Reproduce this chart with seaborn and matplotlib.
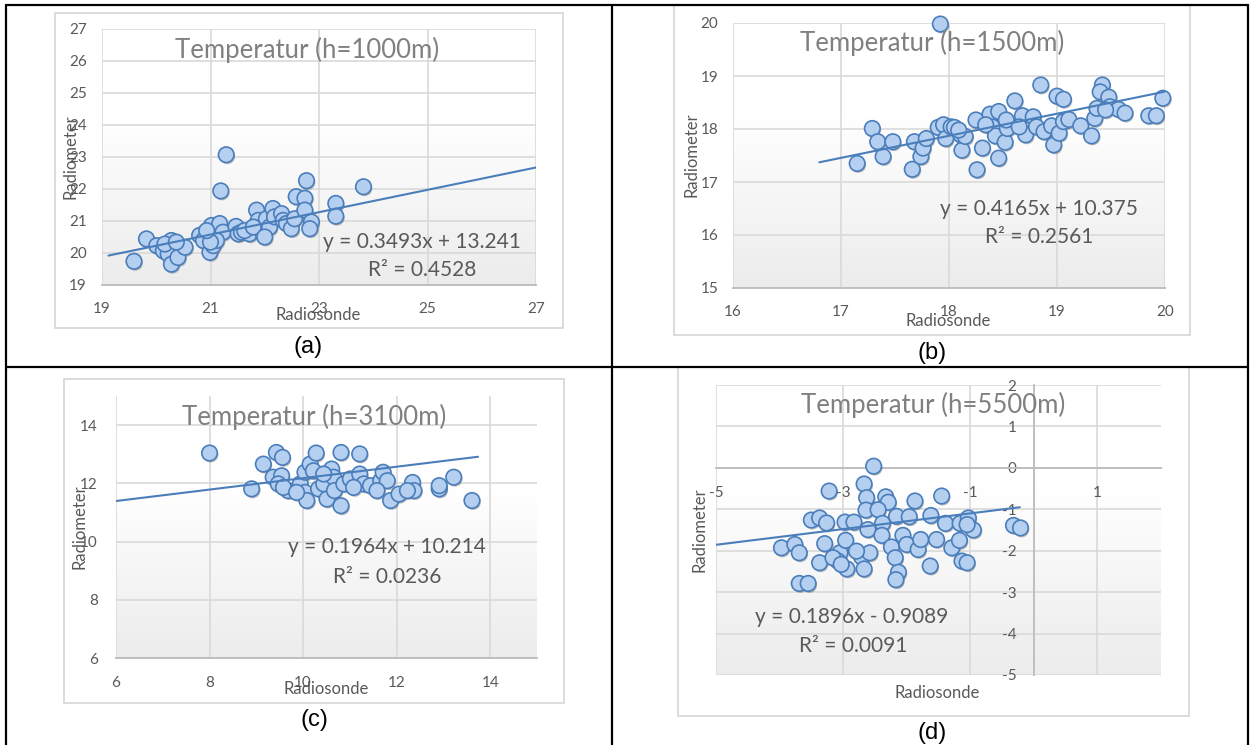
import numpy as np
import matplotlib
matplotlib.use("Agg")
import matplotlib.pyplot as plt
import matplotlib.patheffects as pe
from matplotlib.lines import Line2D
from matplotlib.patches import Rectangle
from matplotlib.colors import LinearSegmentedColormap
import seaborn as sns

sns.set_theme(style="white")
plt.rcParams['font.family'] = ['Lato', 'DejaVu Sans']
plt.rcParams['axes.unicode_minus'] = False

# --- data ---
a_radiosonde = [19.59, 19.82, 20.01, 20.13, 20.28, 20.34, 20.22, 20.28, 20.40, 20.53, 20.16,
                20.80, 20.87, 20.99, 21.05, 21.02, 21.17, 21.23, 21.11, 21.19, 21.29, 21.47,
                21.51, 21.57, 21.72, 21.63, 21.85, 21.88, 21.94, 21.97, 22.03, 22.09, 22.15,
                22.18, 22.31, 22.34, 22.40, 22.49, 22.55, 22.58, 22.74, 22.77, 22.74, 22.86,
                22.83, 23.31, 23.31, 23.82, 21.79, 22.00, 21.00, 20.93, 20.37]
a_radiometer = [19.74, 20.44, 20.23, 20.07, 20.39, 20.23, 19.97, 19.65, 19.86, 20.18, 20.28,
                20.55, 20.39, 20.02, 20.23, 20.86, 20.92, 20.65, 20.39, 21.94, 23.07, 20.83,
                20.60, 20.65, 20.60, 20.70, 21.34, 21.02, 20.81, 20.60, 21.07, 20.81, 21.39,
                21.13, 21.23, 21.02, 20.92, 20.76, 21.07, 21.76, 21.71, 22.26, 21.34, 20.97,
                20.76, 21.55, 21.15, 22.07, 20.81, 20.50, 20.34, 20.70, 20.34]

b_radiosonde = [17.92, 17.15, 17.29, 17.34, 17.39, 17.48, 17.66, 17.68, 17.74, 17.76, 17.79,
                17.90, 17.95, 17.97, 18.02, 18.05, 18.11, 18.12, 18.15, 18.25, 18.26, 18.31,
                18.38, 18.40, 18.46, 18.46, 18.43, 18.52, 18.54, 18.61, 18.68, 18.71, 18.78,
                18.81, 18.85, 18.88, 18.95, 18.97, 19.00, 19.06, 19.02, 19.06, 19.11, 19.22,
                19.32, 19.35, 19.37, 19.42, 19.40, 19.48, 19.49, 19.57, 19.63, 19.85, 19.92,
                19.98, 18.34, 18.53, 18.65, 18.09, 19.45]
b_radiometer = [19.98, 17.35, 18.01, 17.76, 17.48, 17.76, 17.24, 17.76, 17.48, 17.64, 17.82,
                18.03, 18.08, 17.82, 18.04, 18.03, 17.89, 17.60, 17.86, 18.17, 17.23, 17.64,
                18.28, 18.04, 18.33, 17.45, 17.87, 17.75, 18.01, 18.53, 18.25, 17.89, 18.23,
                18.04, 18.83, 17.95, 18.06, 17.70, 18.62, 18.56, 17.92, 18.14, 18.18, 18.06,
                17.87, 18.20, 18.39, 18.83, 18.70, 18.60, 18.42, 18.37, 18.30, 18.25, 18.25,
                18.58, 18.08, 18.17, 18.04, 17.98, 18.36]

c_radiosonde = [8.00, 8.90, 9.15, 9.43, 9.56, 9.36, 9.54, 9.47, 9.68, 9.58, 9.94, 10.04, 10.15,
                10.28, 10.22, 10.04, 10.08, 10.33, 10.44, 10.51, 10.61, 10.65, 10.67, 10.81,
                10.81, 10.87, 11.01, 11.21, 11.21, 11.30, 11.44, 11.66, 11.71, 11.80, 11.87,
                12.05, 12.34, 12.37, 12.91, 13.22, 13.61, 11.58, 11.08, 9.86, 10.44, 12.23, 12.91]
c_radiometer = [13.04, 11.81, 12.66, 13.06, 12.89, 12.21, 12.26, 11.98, 11.75, 11.86, 11.98,
                12.38, 12.66, 13.04, 12.43, 11.69, 11.41, 11.81, 11.98, 11.46, 12.49, 12.21,
                11.75, 13.06, 11.23, 11.98, 12.15, 13.01, 12.32, 11.98, 11.92, 12.09, 12.38,
                12.09, 11.41, 11.63, 12.03, 11.75, 11.81, 12.21, 11.41, 11.75, 11.86, 11.69,
                12.32, 11.75, 11.92]

d_radiosonde = [-2.52, -2.67, -3.22, -2.63, -2.33, -2.29, -1.87, -1.45, -2.64, -2.45, -3.50,
                -3.37, -3.26, -2.97, -2.83, -2.38, -2.16, -1.96, -1.62, -1.39, -1.16, -1.03,
                -0.95, -1.05, -0.32, -0.21, -3.97, -3.76, -3.69, -3.37, -3.29, -3.05, -2.96,
                -2.94, -2.71, -2.67, -2.58, -2.61, -2.39, -2.24, -2.18, -2.13, -2.17, -2.06,
                -2.00, -1.82, -1.78, -1.63, -1.53, -1.29, -1.17, -1.13, -1.05, -3.69, -3.55,
                -3.08, -3.16, -2.79, -3.03]
d_radiometer = [0.04, -0.39, -0.56, -0.72, -0.70, -0.83, -0.80, -0.68, -1.02, -1.01, -1.26,
                -1.21, -1.33, -1.31, -1.31, -1.34, -1.17, -1.18, -1.15, -1.34, -1.34, -1.21,
                -1.50, -1.37, -1.39, -1.45, -1.93, -1.85, -2.05, -2.29, -1.83, -2.05, -1.75,
                -2.44, -2.15, -2.44, -2.05, -1.49, -1.63, -1.91, -2.17, -2.52, -2.70, -1.63,
                -1.85, -1.97, -1.73, -2.37, -1.73, -1.93, -1.75, -2.25, -2.29, -2.79, -2.79,
                -2.25, -2.17, -2.01, -2.33]

titles = ["Temperatur (h=1000m)", "Temperatur (h=1500m)",
          "Temperatur (h=3100m)", "Temperatur (h=5500m)"]
tags = ["(a)", "(b)", "(c)", "(d)"]
slopes = [0.3493, 0.4165, 0.1964, 0.1896]
intercepts = [13.241, 10.375, 10.214, -0.9089]
equations = ["y = 0.3493x + 13.241", "y = 0.4165x + 10.375",
             "y = 0.1964x + 10.214", "y = 0.1896x - 0.9089"]
r_squared = ["R² = 0.4528", "R² = 0.2561", "R² = 0.0236", "R² = 0.0091"]
trend_span = [(19.12, 27), (16.8, 20), (6, 13.74), (-5, -0.22)]

# --- layout in pixels of the 1250x745 page ---
W, H = 1250, 745
layout = [
    dict(box=(102, 29, 536, 285), frame=(55, 13, 563, 328), xlim=(19, 27), ylim=(19, 27),
         xticks=range(19, 28, 2), yticks=range(19, 28), title=(307, 50), eq=(422, 242),
         r2=(422, 270), xlab=(318, 315), ylab=(70, 157), tag=(308, 347), xpad=12.5, ypad=11),
    dict(box=(733, 23, 1165, 288), frame=(674, 5, 1190, 335), xlim=(16, 20), ylim=(15, 20),
         xticks=range(16, 21), yticks=range(15, 21), title=(932, 43), eq=(1039, 209),
         r2=(1039, 237), xlab=(948, 321), ylab=(691, 155), tag=(932, 353), xpad=12.5, ypad=10.5),
    dict(box=(116, 396, 537, 658), frame=(64, 379, 564, 703), xlim=(6, 15), ylim=(6, 15),
         xticks=range(6, 15, 2), yticks=range(6, 15, 2), title=(314, 417), eq=(387, 547),
         r2=(387, 577), xlab=(326, 689), ylab=(80, 527), tag=(314, 720), xpad=13, ypad=13),
    dict(box=(716, 385, 1161, 675), frame=(678, 367, 1189, 716), xlim=(-5, 2), ylim=(-5, 2),
         xticks=range(-5, 2, 2), yticks=range(-5, 3), title=(933, 405), eq=(852, 617),
         r2=(853, 646), xlab=(937, 693), ylab=(700, 530), tag=(932, 733), xpad=13, ypad=9),
]
panels = [(a_radiosonde, a_radiometer), (b_radiosonde, b_radiometer),
          (c_radiosonde, c_radiometer), (d_radiosonde, d_radiometer)]

grid_col = '#d9d9d9'
axis_col = '#bfbfbf'
text_col = '#595959'
face_col = '#b5cff1'
edge_col = '#4a7ebb'
bg_cmap = LinearSegmentedColormap.from_list(
    'plotbg', [(0, '#ffffff'), (0.35, '#ffffff'), (1, '#ececec')])

fig = plt.figure(figsize=(W / 100, H / 100), dpi=100)


def fig_xy(x, y):
    return x / W, 1 - y / H


def put(xy, s, **kw):
    fx, fy = fig_xy(*xy)
    fig.text(fx, fy, s, ha='center', va='center', **kw)


for i, ((xs, ys), lay) in enumerate(zip(panels, layout)):
    # Excel chart area frame
    l, t, r, b = lay['frame']
    fig.patches.append(Rectangle(fig_xy(l, b), (r - l) / W, (b - t) / H,
                                 transform=fig.transFigure, facecolor='white',
                                 edgecolor=grid_col, linewidth=1.3, zorder=-1))
    l, t, r, b = lay['box']
    ax = fig.add_axes([l / W, 1 - b / H, (r - l) / W, (b - t) / H])
    ax.patch.set_visible(False)
    ax.imshow(np.linspace(0, 1, 256).reshape(-1, 1), aspect='auto', cmap=bg_cmap,
              extent=(0, 1, 0, 1), transform=ax.transAxes, zorder=0.1)

    sns.scatterplot(x=xs, y=ys, ax=ax, s=125, color=face_col, edgecolor=edge_col,
                    linewidth=1.2, clip_on=False, zorder=3,
                    path_effects=[pe.SimplePatchShadow(offset=(0.8, -1.2),
                                                       shadow_rgbFace='#404040', alpha=0.35),
                                  pe.Normal()])
    tx = np.array(trend_span[i])
    sns.lineplot(x=tx, y=slopes[i] * tx + intercepts[i], ax=ax, color=edge_col,
                 linewidth=1.5, zorder=4)

    ax.set_xlim(*lay['xlim'])
    ax.set_ylim(*lay['ylim'])
    ax.set_xticks(list(lay['xticks']))
    ax.set_yticks(list(lay['yticks']))
    ax.set_axisbelow(True)
    ax.grid(True, color=grid_col, linewidth=1.2)
    for side in ['top', 'right', 'left']:
        ax.spines[side].set_visible(False)
    ax.spines['bottom'].set_color(axis_col)
    ax.spines['bottom'].set_linewidth(1.4)
    ax.tick_params(axis='x', length=0, pad=lay['xpad'], labelsize=11, labelcolor=text_col)
    ax.tick_params(axis='y', length=0, pad=lay['ypad'], labelsize=11, labelcolor=text_col)
    if i == 3:
        ax.spines['left'].set_visible(True)
        ax.spines['left'].set_position(('data', 0))
        ax.spines['bottom'].set_position(('data', 0))
        ax.spines['left'].set_color(axis_col)
        ax.spines['left'].set_linewidth(1.4)
        ax.tick_params(axis='y', length=3.6, width=1, color=axis_col, direction='out')

    # axis titles sit where Excel put them
    ax.set_xlabel('Radiosonde', fontsize=12, color=text_col, va='center')
    ax.set_ylabel('Radiometer', fontsize=12, color=text_col, va='center')
    ax.xaxis.set_label_coords((lay['xlab'][0] - l) / (r - l), (b - lay['xlab'][1]) / (b - t))
    ax.yaxis.set_label_coords((lay['ylab'][0] - l) / (r - l), (b - lay['ylab'][1]) / (b - t))

    put(lay['title'], titles[i], fontsize=18.5, color='#808080')
    put(lay['eq'], equations[i], fontsize=15, color=text_col)
    put(lay['r2'], r_squared[i], fontsize=15, color=text_col)
    put(lay['tag'], tags[i], fontsize=17, color='black', family='Liberation Sans')

# table rules around the four cells
rules = [((6, 5), (6, 745)), ((612, 5), (612, 745)), ((1248, 5), (1248, 745)),
         ((6, 5), (1248, 5)), ((6, 367), (1248, 367))]
for p0, p1 in rules:
    (x0, y0), (x1, y1) = fig_xy(*p0), fig_xy(*p1)
    fig.add_artist(Line2D([x0, x1], [y0, y1], transform=fig.transFigure,
                          color='black', linewidth=1.6, zorder=10))

fig.savefig('out.png', dpi=100)
